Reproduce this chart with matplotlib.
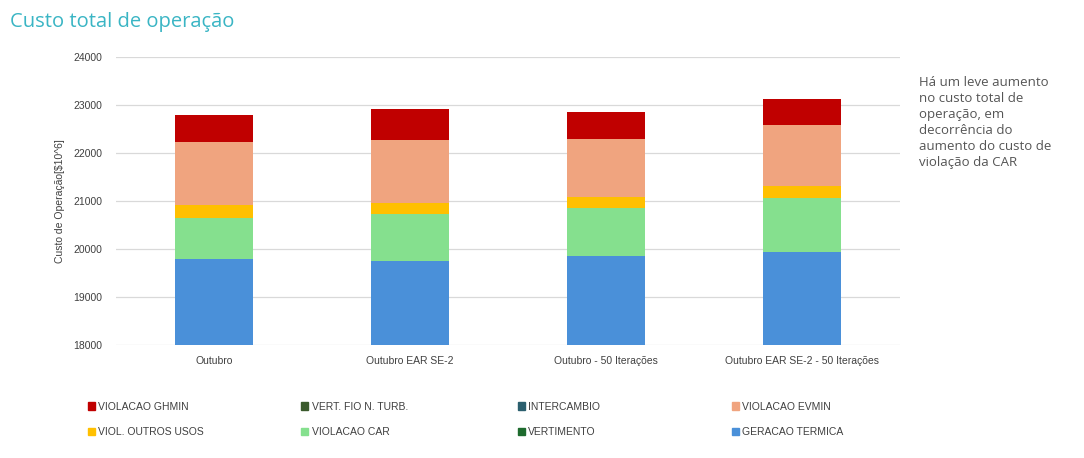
import matplotlib.pyplot as plt
import matplotlib.patches as mpatches
import numpy as np

plt.rcParams['font.family'] = ['Liberation Sans', 'DejaVu Sans']

cenarios = ["Outubro", "Outubro EAR SE-2", "Outubro - 50 Iterações",
            "Outubro EAR SE-2 - 50 Iterações"]

# parcelas do custo, de baixo para cima
geracao_termica = [19780, 19740, 19860, 19940]
vertimento = [0, 0, 0, 0]
violacao_car = [870, 990, 990, 1120]
viol_outros_usos = [270, 220, 220, 250]
violacao_evmin = [1300, 1320, 1210, 1270]
intercambio = [0, 0, 0, 0]
vert_fio = [0, 0, 0, 0]
violacao_ghmin = [570, 650, 560, 540]

series = [
    ("GERACAO TERMICA", geracao_termica, "#4a90d9"),
    ("VERTIMENTO", vertimento, "#1e6b2e"),
    ("VIOLACAO CAR", violacao_car, "#85e08e"),
    ("VIOL. OUTROS USOS", viol_outros_usos, "#ffc000"),
    ("VIOLACAO EVMIN", violacao_evmin, "#f0a47f"),
    ("INTERCAMBIO", intercambio, "#2b5f6e"),
    ("VERT. FIO N. TURB.", vert_fio, "#3a5a2c"),
    ("VIOLACAO GHMIN", violacao_ghmin, "#c00000"),
]

fig = plt.figure(figsize=(10.84, 4.58), dpi=100)
ax = fig.add_axes([0.107, 0.247, 0.723, 0.629])

x = np.arange(len(cenarios))
base = np.zeros(len(cenarios))
handles = {}
for nome, vals, cor in series:
    vals = np.array(vals, dtype=float)
    ax.bar(x, vals, 0.4, bottom=base, color=cor, linewidth=0, zorder=3)
    handles[nome] = mpatches.Patch(color=cor, label=nome)
    base = base + vals

ax.set_ylim(18000, 24000)
ax.set_xlim(-0.5, len(cenarios) - 0.5)
ax.set_yticks(np.arange(18000, 24001, 1000))
ax.yaxis.grid(True, color="#d9d9d9", linewidth=0.9, zorder=0)
for s in ax.spines.values():
    s.set_visible(False)
ax.tick_params(axis="both", length=0, labelsize=7.5, colors="#404040")
ax.tick_params(axis="y", pad=10)
ax.tick_params(axis="x", pad=8)
ax.set_xticks(x)
ax.set_xticklabels(cenarios)
ax.set_ylabel("Custo de Operação[$10^6]", fontsize=7.5, color="#404040",
              labelpad=6)

fig.text(0.009, 0.952, "Custo total de operação", fontsize=14.5,
         color="#3ab5c4", family=["Open Sans", "DejaVu Sans"], va="center")

fig.text(0.848, 0.835,
         "Há um leve aumento\nno custo total de\noperação, em\n"
         "decorrência do\naumento do custo de\nviolação da CAR",
         fontsize=9.5, color="#555555", va="top", linespacing=1.3,
         family=["Open Sans", "DejaVu Sans"])

# legenda em quatro colunas fixas
colunas = [
    ["VIOLACAO GHMIN", "VIOL. OUTROS USOS"],
    ["VERT. FIO N. TURB.", "VIOLACAO CAR"],
    ["INTERCAMBIO", "VERTIMENTO"],
    ["VIOLACAO EVMIN", "GERACAO TERMICA"],
]
xs = [0.077, 0.274, 0.474, 0.671]
for xc, nomes in zip(xs, colunas):
    fig.legend(handles=[handles[n] for n in nomes], loc="upper left",
               bbox_to_anchor=(xc, 0.132), frameon=False,
               fontsize=7.5, handlelength=0.7, handleheight=0.7,
               handletextpad=0.3, labelspacing=1.45, borderaxespad=0,
               labelcolor="#404040")

fig.savefig("out.png", dpi=100)
